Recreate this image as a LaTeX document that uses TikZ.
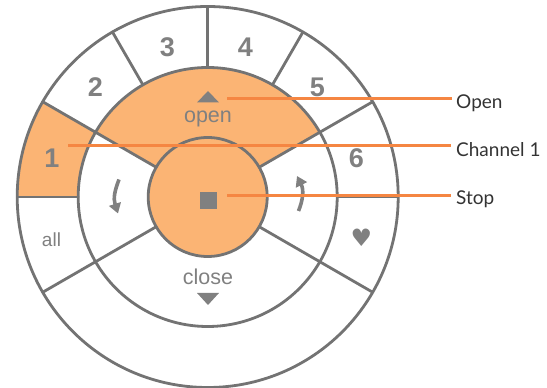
\documentclass[tikz,border=0pt]{standalone}
\usepackage{fontspec}
\setmainfont{Liberation Sans}
\newfontfamily\labelfont{Lato}
\newfontfamily\symbolfont{DejaVu Sans}
\usetikzlibrary{arrows.meta}
\definecolor{ringgray}{HTML}{737373}
\definecolor{markgray}{HTML}{808080}
\definecolor{softorange}{HTML}{FBB474}
\definecolor{leader}{HTML}{F58642}
\tikzset{
  ring/.style={draw=ringgray,line width=2.8pt},
  spoke/.style={draw=ringgray,line width=2.8pt,line cap=round},
  sector/.style={fill=softorange,draw=none},
  numlabel/.style={text=markgray,font=\bfseries\fontsize{27}{27}\selectfont,inner sep=0pt},
  wordlabel/.style={text=markgray,font=\fontsize{21.5}{22}\selectfont,inner sep=0pt},
  glyphfill/.style={fill=markgray,draw=none},
  turn/.style={draw=markgray,line width=3.6pt,-{Triangle[length=10pt,width=12pt]}},
  leaderline/.style={draw=leader,line width=2.6pt},
  calllabel/.style={text=black!80,font=\labelfont\fontsize{19}{21}\selectfont,inner sep=0pt,anchor=west},
}
\begin{document}
\begin{tikzpicture}[x=1pt,y=1pt]
\path[use as bounding box] (0,0) rectangle (547,388);
\coordinate (c) at (207.7,191);
\def\rO{190.5}\def\rM{129.5}\def\rI{59.5}
% filled regions
\fill[sector] ([shift={(c)}]150:\rM) arc[start angle=150,end angle=30,radius=\rM]
  -- ([shift={(c)}]30:\rI) arc[start angle=30,end angle=150,radius=\rI] -- cycle;
\fill[sector] ([shift={(c)}]150:\rO) arc[start angle=150,end angle=180,radius=\rO]
  -- ([shift={(c)}]180:\rM) arc[start angle=180,end angle=150,radius=\rM] -- cycle;
\fill[sector] (c) circle[radius=\rI];
% spokes
\foreach \a in {30,150,210,330}{
  \draw[spoke] ([shift={(c)}]\a:\rI) -- ([shift={(c)}]\a:\rO);
}
\foreach \a in {0,60,90,120,180}{
  \draw[spoke] ([shift={(c)}]\a:\rM) -- ([shift={(c)}]\a:\rO);
}
% rings
\draw[ring] (c) circle[radius=\rO];
\draw[ring] (c) circle[radius=\rM];
\draw[ring] (c) circle[radius=\rI];
% channel labels
\node[numlabel] (n1) at (52,229.5) {1};
\node[numlabel] (n2) at (95.5,301) {2};
\node[numlabel] (n3) at (167.5,341) {3};
\node[numlabel] (n4) at (245.5,341) {4};
\node[numlabel] (n5) at (317.5,301) {5};
\node[numlabel] (n6) at (356.5,230) {6};
\node[wordlabel,font=\fontsize{19}{20}\selectfont] (nall) at (51.5,148) {all};
\node[text=markgray,font=\symbolfont\fontsize{24}{24}\selectfont,inner sep=0pt] (nheart) at (361.5,150) {♥};
\node[wordlabel] (nopen) at (208,269.5) {open};
\node[wordlabel] (nclose) at (208,111) {close};
% controls
\fill[glyphfill] (197,285.5) -- (219,285.5) -- (208,297) -- cycle;
\fill[glyphfill] (197,95) -- (219,95) -- (208,83) -- cycle;
\fill[glyphfill] (200,179) rectangle (217,196);
% turn arrows
\coordinate (la) at (119,208.5);
\coordinate (lb) at (118,174.5);
\draw[turn] (la) .. controls (115,198) and (113,190) .. (lb);
\coordinate (ra) at (298.5,177);
\coordinate (rb) at (297,212);
\draw[turn] (ra) .. controls (303,188) and (304,198) .. (rb);
% leaders
\node[calllabel] (lopen) at (456,284.5) {Open};
\node[calllabel] (lchan) at (456,238.5) {Channel 1};
\node[calllabel] (lstop) at (456,188.5) {Stop};
\coordinate (sopen) at (227,289.5);
\coordinate (schan) at (68,242.5);
\coordinate (sstop) at (227,192.5);
\draw[leaderline] (sopen) -- ([xshift=-4pt]sopen -| lopen.west);
\draw[leaderline] (schan) -- ([xshift=-5pt]schan -| lchan.west);
\draw[leaderline] (sstop) -- ([xshift=-5pt]sstop -| lstop.west);
\end{tikzpicture}
\end{document}
